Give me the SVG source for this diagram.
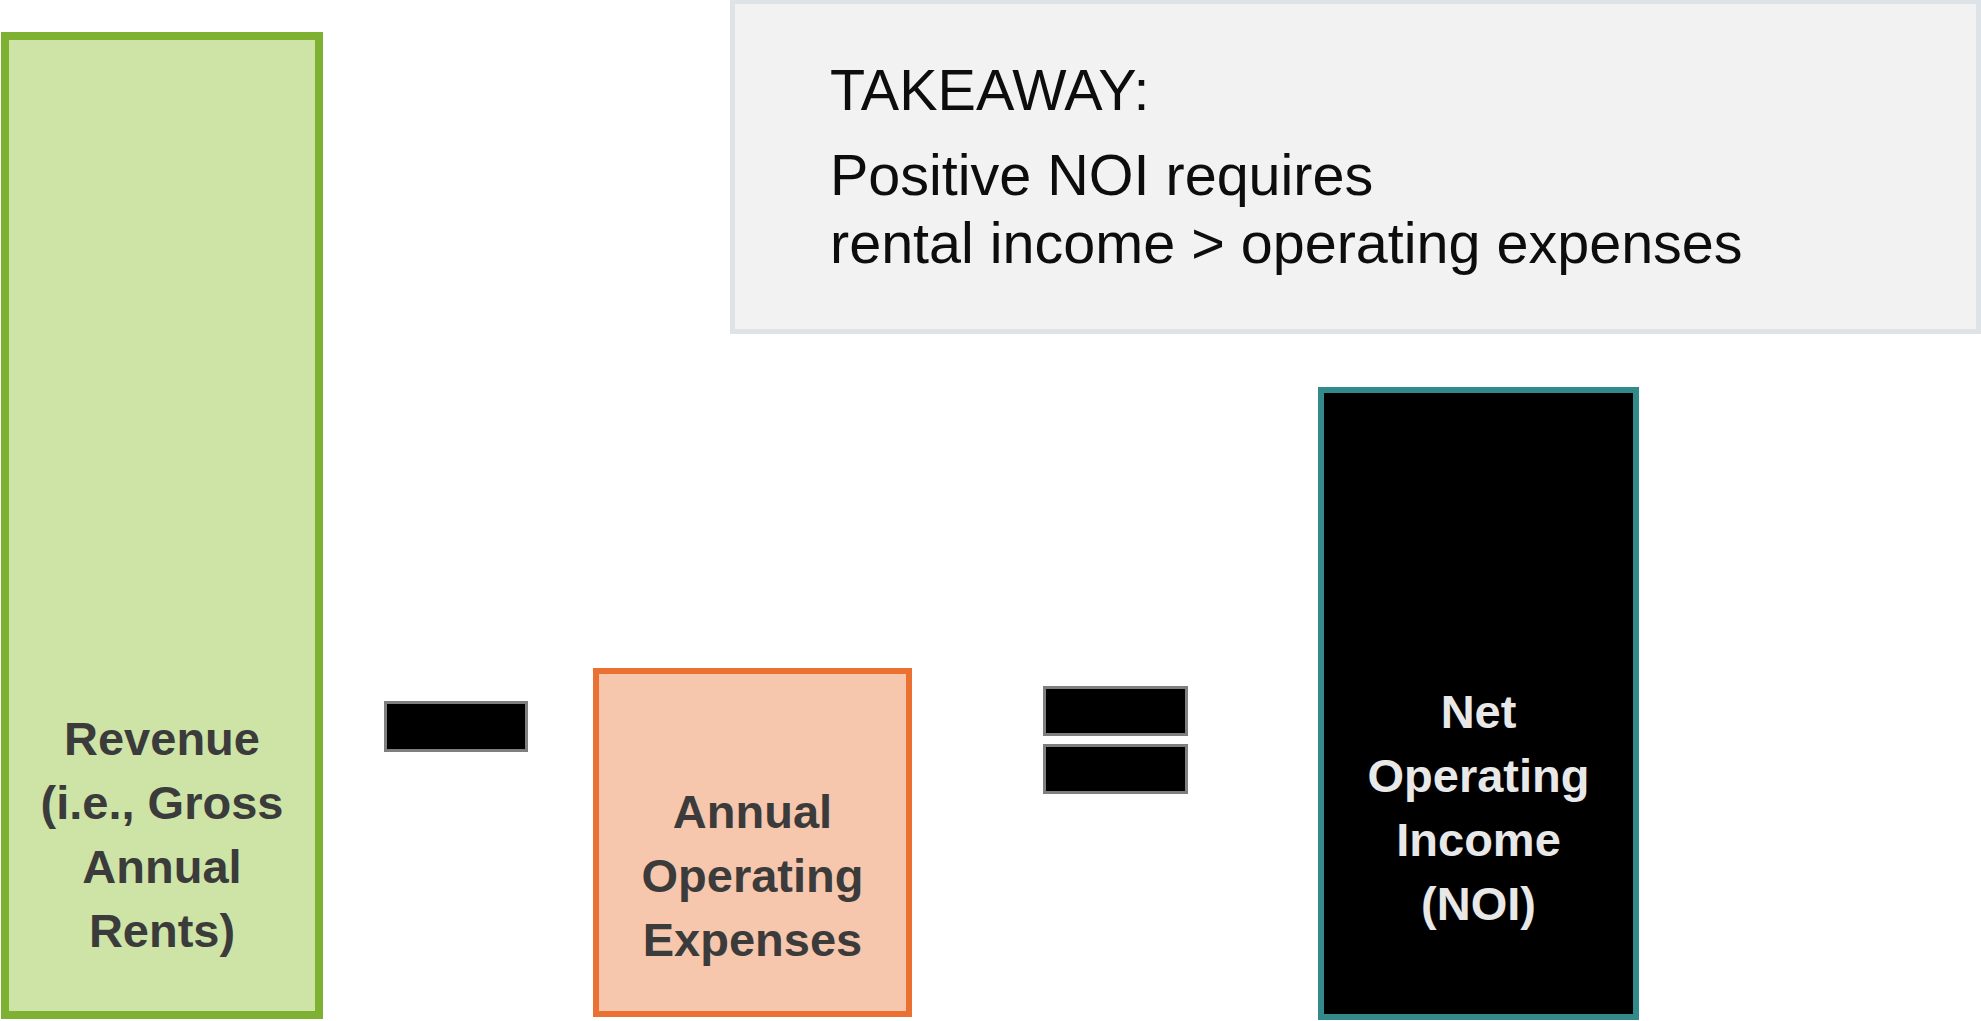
<svg xmlns="http://www.w3.org/2000/svg" width="1981" height="1021" viewBox="0 0 1981 1021">
  <style>
    .label { font-family: "Liberation Sans", Arial, sans-serif; font-weight: bold; font-size: 47px; text-anchor: middle; }
    .dark { fill: #3B3B3B; }
    .light { fill: #E8E8E8; }
    .note { font-family: "Liberation Sans", Arial, sans-serif; font-size: 57.5px; fill: #0D0D0D; }
    .op { fill: #000000; stroke: #7F7F7F; stroke-width: 3; }
  </style>
  <rect width="1981" height="1021" fill="#FFFFFF"/>

  <!-- Takeaway callout -->
  <g id="takeaway">
    <rect x="732.5" y="1.5" width="1246" height="330" fill="#F2F2F2" stroke="#DEE3E8" stroke-width="5"/>
    <text class="note" x="830" y="110">TAKEAWAY:</text>
    <text class="note" x="830" y="195">Positive NOI requires</text>
    <text class="note" x="830" y="263">rental income &gt; operating expenses</text>
  </g>

  <!-- Revenue bar -->
  <g id="revenue">
    <rect x="5" y="36" width="314" height="979" fill="#CEE4A7" stroke="#7EB032" stroke-width="8"/>
    <text class="label dark" x="162" y="755">Revenue</text>
    <text class="label dark" x="162" y="819">(i.e., Gross</text>
    <text class="label dark" x="162" y="883">Annual</text>
    <text class="label dark" x="162" y="947">Rents)</text>
  </g>

  <!-- Minus sign -->
  <g id="minus">
    <rect class="op" x="385.5" y="702.5" width="141" height="48"/>
  </g>

  <!-- Operating expenses bar -->
  <g id="expenses">
    <rect x="596" y="671" width="313" height="343" fill="#F6C7AC" stroke="#EB7132" stroke-width="6"/>
    <text class="label dark" x="752.5" y="828">Annual</text>
    <text class="label dark" x="752.5" y="892">Operating</text>
    <text class="label dark" x="752.5" y="956">Expenses</text>
  </g>

  <!-- Equals sign -->
  <g id="equals">
    <rect class="op" x="1044.5" y="687.5" width="142" height="47"/>
    <rect class="op" x="1044.5" y="745.5" width="142" height="47"/>
  </g>

  <!-- Net operating income bar -->
  <g id="noi">
    <rect x="1321" y="390" width="315" height="627" fill="#000000" stroke="#338A8A" stroke-width="6"/>
    <text class="label light" x="1478.5" y="728">Net</text>
    <text class="label light" x="1478.5" y="792">Operating</text>
    <text class="label light" x="1478.5" y="856">Income</text>
    <text class="label light" x="1478.5" y="920">(NOI)</text>
  </g>

  <g id="connectors"/>
</svg>
